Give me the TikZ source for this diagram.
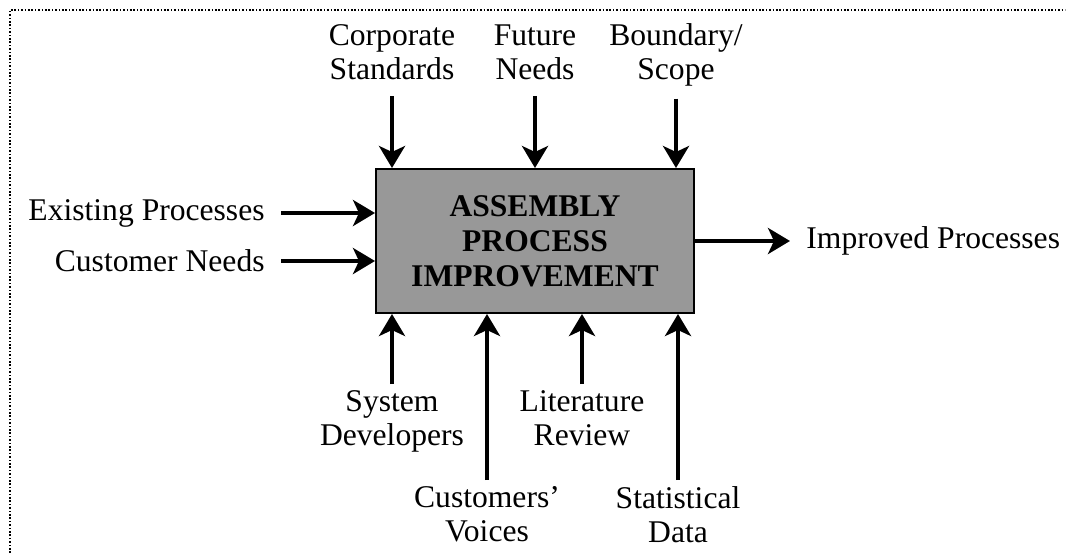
\documentclass[tikz,border=0pt]{standalone}
\usepackage{fontspec}
\setmainfont{Liberation Serif}
\usepackage{tikz}
\usetikzlibrary{arrows.meta,calc}
\definecolor{boxgray}{RGB}{152,152,152}

\begin{document}
\begin{tikzpicture}[x=0.5pt,y=-0.5pt,
  every node/.style={font=\fontsize{15.8}{17}\selectfont,inner sep=0pt,align=center},
  flow/.style={line width=2pt,-{Stealth[length=11pt,width=13pt,inset=3pt]}}]
  \useasboundingbox (0,0) rectangle (1068,553);
  \draw[line width=0.8pt,dash pattern=on 0.8pt off 0.9pt] (10,553) -- (10,10) -- (1065,10);

  \node[draw=black,line width=1pt,fill=boxgray,minimum width=159pt,minimum height=72pt,
        font=\fontsize{15.8}{17.5}\selectfont\bfseries] (api) at (535,241)
        {ASSEMBLY\\PROCESS\\IMPROVEMENT};

  \node (corp) at (392,52) {Corporate\\Standards};
  \node (fut) at (535,52) {Future\\Needs};
  \node (bnd) at (676,55) {Boundary/\\Scope};

  \node[anchor=east] (exist) at (265,213) {Existing Processes};
  \node[anchor=east] (cust) at (265,261) {Customer Needs};
  \node[anchor=west] (impr) at (806,241) {Improved Processes};

  \node[anchor=north] (sysd) at (392,390) {System\\Developers};
  \node[anchor=north] (cvoi) at (487,486) {Customers'\\Voices};
  \node[anchor=north] (lit) at (582,390) {Literature\\Review};
  \node[anchor=north] (stat) at (678,486) {Statistical\\Data};

  \draw[flow] ([yshift=-8pt]corp.south) -- (corp.south |- api.north);
  \draw[flow] ([yshift=-8pt]fut.south) -- (fut.south |- api.north);
  \draw[flow] ([yshift=-6pt]bnd.south) -- (bnd.south |- api.north);

  \draw[flow] ([xshift=8pt]exist.east) -- (exist.east -| api.west);
  \draw[flow] ([xshift=8pt]cust.east) -- (cust.east -| api.west);
  \draw[flow] (impr.west -| api.east) -- ([xshift=-8pt]impr.west);

  \draw[flow] ([yshift=3pt]sysd.north) -- (sysd.north |- api.south);
  \draw[flow] ([yshift=3pt]cvoi.north) -- (cvoi.north |- api.south);
  \draw[flow] ([yshift=3pt]lit.north) -- (lit.north |- api.south);
  \draw[flow] ([yshift=3pt]stat.north) -- (stat.north |- api.south);
\end{tikzpicture}
\end{document}
